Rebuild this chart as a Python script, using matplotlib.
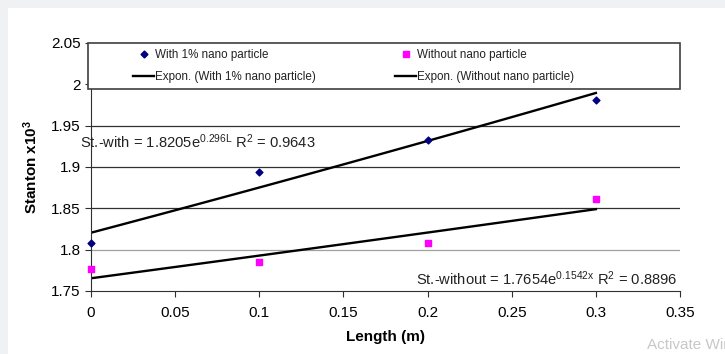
import matplotlib
matplotlib.use('Agg')
import matplotlib.pyplot as plt
import numpy as np
from matplotlib.lines import Line2D

plt.rcParams['font.family'] = ['Liberation Sans', 'DejaVu Sans']
plt.rcParams['mathtext.fontset'] = 'custom'
plt.rcParams['mathtext.rm'] = 'Liberation Sans'
plt.rcParams['mathtext.it'] = 'Liberation Sans'
plt.rcParams['mathtext.bf'] = 'Liberation Sans:bold'

# data
length = [0.0, 0.1, 0.2, 0.3]
st_with = [1.808, 1.894, 1.933, 1.981]
st_without = [1.777, 1.785, 1.808, 1.861]

# trend line coefficients (from chart equations)
fit_with = (1.8205, 0.296)
fit_without = (1.7654, 0.1542)

y_ticks = [1.75, 1.8, 1.85, 1.9, 1.95, 2.0, 2.05]
y_labels = ['1.75', '1.8', '1.85', '1.9', '1.95', '2', '2.05']
x_ticks = [0, 0.05, 0.1, 0.15, 0.2, 0.25, 0.3, 0.35]
x_labels = ['0', '0.05', '0.1', '0.15', '0.2', '0.25', '0.3', '0.35']

fig = plt.figure(figsize=(7.25, 3.54), dpi=100, facecolor='#f0f1f3')
# white chart area
fig.patches.append(plt.Rectangle((8 / 725, 0), 1, 1 - 8 / 354, transform=fig.transFigure,
                                 facecolor='white', edgecolor='none', zorder=-10))
ax = fig.add_axes([91 / 725, 1 - 291 / 354, 589 / 725, 248 / 354])
ax.set_facecolor('white')

# gridlines
grid_cols = {1.8: '#a0a0a0', 1.85: '#303030', 1.9: '#303030', 1.95: '#303030',
             2.0: '#a0a0a0', 2.05: '#303030'}
for yv, c in grid_cols.items():
    ax.axhline(yv, color=c, lw=0.9, zorder=1)

xs = np.linspace(0, 0.3, 50)
ax.plot(xs, fit_with[0] * np.exp(fit_with[1] * xs), color='black', lw=1.7, zorder=2)
ax.plot(xs, fit_without[0] * np.exp(fit_without[1] * xs), color='black', lw=1.7, zorder=2)
ax.scatter(length, st_with, marker='D', s=12, color='#000080', zorder=3, clip_on=False)
ax.scatter(length, st_without, marker='s', s=16, color='#ff00ff', zorder=3, clip_on=False)

ax.set_xlim(0, 0.35)
ax.set_ylim(1.75, 2.05)
ax.set_yticks(y_ticks)
ax.set_yticklabels(y_labels)
ax.set_xticks(x_ticks)
ax.set_xticklabels(x_labels)
ax.tick_params(labelsize=11, length=4, width=0.8, color='#303030')
ax.tick_params(axis='x', pad=7)
for s in ['top', 'right']:
    ax.spines[s].set_visible(False)
ax.spines['left'].set_color('#303030')
ax.spines['bottom'].set_color('#303030')

ax.set_xlabel('Length (m)', fontsize=11, fontweight='bold', labelpad=6.7)
ax.set_ylabel(r'Stanton x10$^{\mathbf{3}}$', fontsize=11, fontweight='bold', labelpad=8)

# legend box spanning the top of the plot
leg_bottom = (291 - 89) / 248
ax.add_patch(plt.Rectangle((-0.005, leg_bottom), 1.005, 1 - leg_bottom, transform=ax.transAxes,
                           facecolor='white', edgecolor='#404040', lw=1.2, zorder=4,
                           clip_on=False))

handles = [
    Line2D([], [], marker='D', ms=3.5, color='#000080', ls='none'),
    Line2D([], [], color='black', lw=1.7),
    Line2D([], [], marker='s', ms=4, color='#ff00ff', ls='none'),
    Line2D([], [], color='black', lw=1.7),
]
labels = ['With 1% nano particle', 'Expon. (With 1% nano particle)',
          'Without nano particle', 'Expon. (Without nano particle)']
leg = ax.legend(handles, labels, ncol=2, loc='upper left',
                bbox_to_anchor=((133 - 91) / 589, 1 - 6 / 248), fontsize=8.4, frameon=False,
                borderpad=0.0, labelspacing=0.85, columnspacing=6.8,
                handlelength=1.8, handletextpad=0.1, borderaxespad=0.0)
leg.set_zorder(5)
for t in leg.get_texts():
    t.set_color('#222222')

ax.text(-0.0065, 1.930, r'St.-with = 1.8205e$^{0.296L}$ R$^{2}$ = 0.9643', fontsize=10.6,
        color='#222222', va='center', ha='left', zorder=6)
ax.text(0.193, 1.7645, r'St.-without = 1.7654e$^{0.1542x}$ R$^{2}$ = 0.8896', fontsize=10.6,
        color='#222222', va='center', ha='left', zorder=6)

fig.text(0.893, 0.005, 'Activate Wir', fontsize=11, color='#c8c8c8', ha='left', va='bottom')

fig.savefig('out.png', dpi=100, facecolor=fig.get_facecolor())
